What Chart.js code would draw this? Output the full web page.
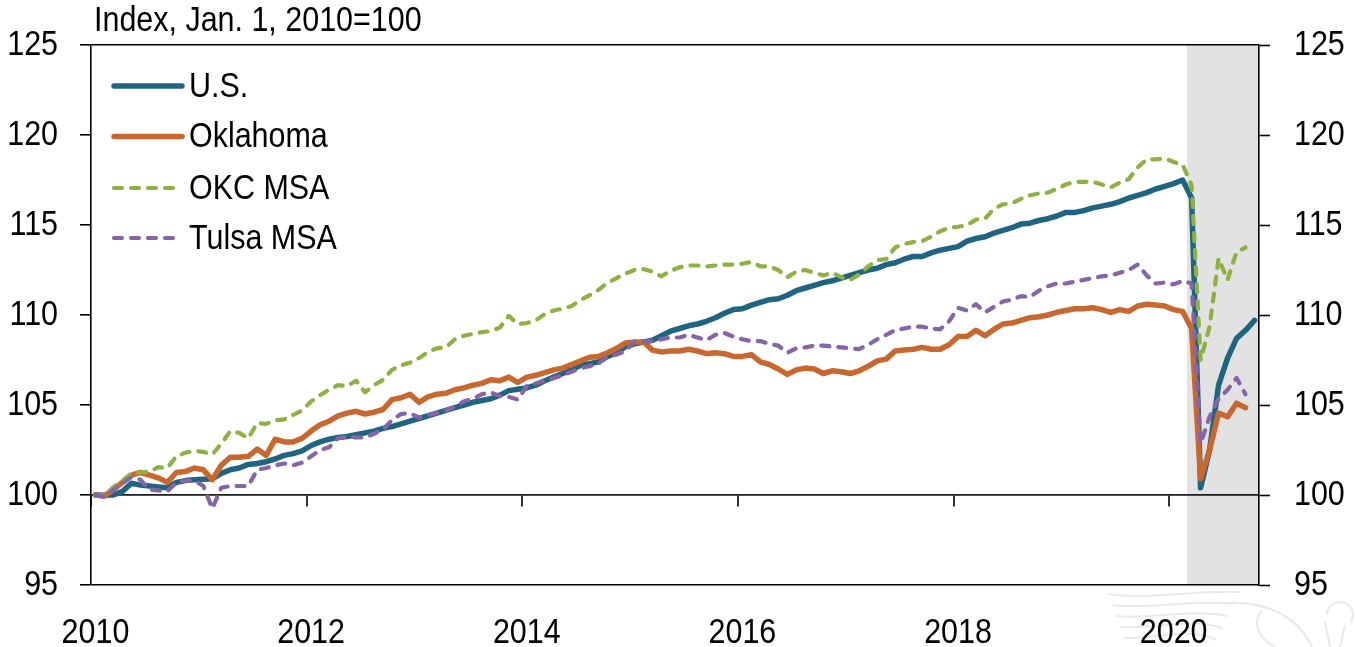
<!DOCTYPE html>
<html>
<head>
<meta charset="utf-8">
<title>Index, Jan. 1, 2010=100</title>
<script src="https://cdn.jsdelivr.net/npm/chart.js@4/dist/chart.umd.min.js"></script>
<style>
html,body{margin:0;padding:0;background:#fff}
#wrap{position:relative;width:1355px;height:647px}
</style>
</head>
<body>
<div id="wrap"><canvas id="c" width="1355" height="647"></canvas></div>
<script>
// DATA
const unitLabel='Index, Jan. 1, 2010=100';
const yTicks=[95,100,105,110,115,120,125];
const framedTicks=[95,100,125];
const recessionStart='2020-03';

const usValues=[
 100,99.98,100,100.2,100.65,100.55,100.5,100.45,100.4,100.7,100.8,100.85,
 100.87,100.9,101.2,101.4,101.5,101.7,101.75,101.85,102,102.2,102.3,102.45,
 102.75,102.95,103.1,103.2,103.25,103.35,103.45,103.55,103.7,103.8,103.95,104.1,
 104.25,104.4,104.55,104.7,104.85,105,105.15,105.25,105.35,105.55,105.8,105.87,
 105.95,106.1,106.35,106.55,106.75,106.95,107.2,107.3,107.4,107.7,107.9,108.25,
 108.4,108.5,108.6,108.85,109.1,109.25,109.4,109.5,109.65,109.85,110.1,110.3,
 110.35,110.55,110.7,110.85,110.9,111.1,111.35,111.5,111.65,111.8,111.9,112.05,
 112.2,112.35,112.5,112.6,112.8,112.9,113.1,113.25,113.25,113.45,113.6,113.7,
 113.8,114.1,114.25,114.35,114.55,114.7,114.85,115.05,115.1,115.25,115.35,115.5,
 115.7,115.7,115.8,115.95,116.05,116.15,116.3,116.5,116.65,116.8,117,117.15,
 117.3,117.5,116.5,100.4,102.5,106.1,107.6,108.7,109.15,109.7];

const oklahomaValues=[
 100,99.95,100.3,100.7,101.1,101.25,101.1,100.95,100.7,101.25,101.3,101.5,
 101.4,100.85,101.65,102.1,102.1,102.15,102.55,102.2,103.1,102.95,102.95,103.15,
 103.55,103.9,104.1,104.4,104.55,104.65,104.5,104.6,104.75,105.3,105.4,105.6,
 105.15,105.45,105.6,105.65,105.85,105.95,106.1,106.2,106.4,106.35,106.55,106.25,
 106.55,106.65,106.8,106.95,107.05,107.25,107.45,107.65,107.7,107.9,108.15,108.45,
 108.5,108.5,108.05,107.95,108,108,108.1,108,107.85,107.9,107.85,107.7,
 107.7,107.8,107.4,107.25,107,106.7,106.95,107.05,107,106.75,106.9,106.85,
 106.75,106.9,107.15,107.45,107.55,108,108.05,108.1,108.2,108.1,108.1,108.35,
 108.8,108.8,109.15,108.85,109.2,109.5,109.55,109.7,109.85,109.9,110,110.15,
 110.25,110.35,110.35,110.4,110.3,110.15,110.3,110.2,110.5,110.6,110.55,110.5,
 110.3,110.2,109.25,100.9,102.5,104.55,104.35,105.1,104.85];

const okcValues=[
 100,99.95,100.45,100.8,101.2,101.25,101.3,101.55,101.5,102.15,102.35,102.45,
 102.4,102.25,102.85,103.55,103.45,103.15,104,103.95,104.15,104.2,104.45,104.7,
 105.2,105.55,105.85,106.1,106.05,106.35,105.7,106.1,106.4,106.95,107.2,107.35,
 107.6,107.95,108.15,108.2,108.65,108.85,108.95,109.05,109.1,109.3,109.95,109.5,
 109.55,109.7,110.05,110.25,110.35,110.5,110.85,111.1,111.4,111.8,112.05,112.3,
 112.5,112.55,112.4,112.15,112.45,112.65,112.75,112.75,112.7,112.75,112.8,112.8,
 112.85,112.95,112.7,112.7,112.5,112.1,112.4,112.5,112.35,112.2,112.35,112.1,
 111.95,112.25,112.7,113.05,113.1,113.75,113.95,114.05,114.1,114.35,114.65,114.85,
 114.9,115,115.3,115.35,115.9,116.15,116.2,116.45,116.65,116.75,116.8,117,
 117.25,117.4,117.4,117.4,117.25,117.1,117.35,117.55,118.2,118.65,118.65,118.7,
 118.5,118.35,117.2,107.5,109.35,113.15,111.95,113.5,113.75];

const tulsaValues=[
 100,99.9,100.3,100.65,101,100.85,100.3,100.25,100.2,100.7,100.8,100.8,
 100.5,99.25,100.4,100.5,100.5,100.5,101.4,101.5,101.65,101.75,101.65,101.8,
 102.15,102.5,102.65,103.15,103.25,103.2,103.2,103.4,103.65,104.15,104.5,104.55,
 104.3,104.45,104.55,104.7,104.9,105.2,105.35,105.6,105.7,105.5,105.45,105.3,
 106.05,106.2,106.35,106.5,106.65,106.85,107.05,107.15,107.3,107.7,107.8,108,
 108.55,108.55,108.55,108.65,108.75,108.75,108.9,108.75,108.6,108.9,109,108.8,
 108.65,108.55,108.55,108.4,108.3,107.9,108.15,108.2,108.3,108.3,108.25,108.2,
 108.15,108.1,108.35,108.65,108.9,109.15,109.25,109.35,109.35,109.25,109.2,109.65,
 110.4,110.25,110.6,110.15,110.45,110.75,110.85,111.05,111,111.35,111.6,111.75,
 111.75,111.85,111.95,112.05,112.15,112.2,112.35,112.5,112.8,112.2,111.75,111.8,
 111.7,111.9,111.75,102.85,104.35,105.35,105.85,106.5,105.6];

const months=[];
for(let y=2010;y<=2020;y++){
  for(let m=1;m<=12;m++){
    if(y===2020&&m>10)break;
    months.push(y+'-'+String(m).padStart(2,'0'));
  }
}

// STYLE
const FONT='"Liberation Sans",Arial,sans-serif';
const FS=35;
const SQUEEZE=0.87; // reference type is narrower than regular Arial
const DASH=[8,9];
const series=[
  {label:'U.S.',      data:usValues,      color:'#1f6480',width:5.5,dash:[],  order:4,ly:86},
  {label:'Oklahoma',  data:oklahomaValues,color:'#c8682f',width:5.5,dash:[],  order:3,ly:136.5},
  {label:'OKC MSA',   data:okcValues,     color:'#8fb142',width:4.2,dash:DASH,order:2,ly:188},
  {label:'Tulsa MSA', data:tulsaValues,   color:'#8564a8',width:4.2,dash:DASH,order:1,ly:238}
];

// all text on this canvas goes through here, squeezed about its anchor
const ctxEl=document.getElementById('c').getContext('2d');
const rawFillText=ctxEl.fillText.bind(ctxEl);
ctxEl.fillText=function(t,x,y,w){
  this.save();
  this.translate(x,y);
  this.scale(SQUEEZE,1);
  rawFillText(t,0,0);
  this.restore();
};

// shaded recession band + faint watermark go under everything
const underlay={
  id:'underlay',
  beforeDraw(chart){
    const ctx=chart.ctx,a=chart.chartArea,x=chart.scales.x;
    const half=(x.getPixelForValue(1)-x.getPixelForValue(0))/2;
    const x0=x.getPixelForValue(months.indexOf(recessionStart))-half;
    ctx.save();
    ctx.fillStyle='#e2e2e2';
    ctx.fillRect(x0,a.top,a.right-x0,a.bottom-a.top);
    // watermark, only a rough sketch of the wing
    ctx.strokeStyle='#e9e9e9';ctx.lineWidth=2;
    for(let i=0;i<5;i++){
      ctx.beginPath();
      ctx.moveTo(1108+i*4,594+i*11);
      ctx.bezierCurveTo(1150,600+i*10,1190,590+i*9,1240-i*6,592+i*12);
      ctx.stroke();
    }
    ctx.beginPath();ctx.moveTo(1225,603);ctx.bezierCurveTo(1270,600,1300,620,1312,647);ctx.stroke();
    ctx.beginPath();ctx.moveTo(1262,610);ctx.bezierCurveTo(1250,625,1262,640,1275,647);ctx.stroke();
    ctx.beginPath();ctx.arc(1340,615,13,Math.PI,Math.PI*2.2);ctx.stroke();
    ctx.beginPath();ctx.moveTo(1325,622);ctx.lineTo(1330,647);ctx.moveTo(1345,625);ctx.lineTo(1340,647);ctx.stroke();
    ctx.restore();
  }
};

// legend sits inside the plot, unit label above it
const overlay={
  id:'overlay',
  afterDraw(chart){
    const ctx=chart.ctx;
    ctx.save();
    ctx.font=FS+'px '+FONT;
    ctx.fillStyle='#000';
    ctx.textBaseline='middle';
    ctx.textAlign='left';
    ctx.fillText(unitLabel,94,21);
    series.forEach(s=>{
      ctx.beginPath();
      ctx.strokeStyle=s.color;
      ctx.lineWidth=s.width;
      ctx.lineCap='round';
      ctx.setLineDash(s.dash);
      ctx.moveTo(114,s.ly);ctx.lineTo(182,s.ly);
      ctx.stroke();
      ctx.setLineDash([]);
      ctx.fillText(s.label,189,s.ly+1);
    });
    ctx.restore();
  }
};

function noPad(s){s.paddingLeft=0;s.paddingRight=0;s.paddingTop=0;s.paddingBottom=0}

new Chart(ctxEl,{
  type:'line',
  data:{
    labels:months,
    datasets:series.map(s=>({
      label:s.label,data:s.data,order:s.order,
      borderColor:s.color,borderWidth:s.width,borderDash:s.dash,
      borderCapStyle:'round',borderJoinStyle:'round',
      pointRadius:0,tension:0,fill:false,clip:false
    }))
  },
  options:{
    responsive:false,
    animation:false,
    events:[],
    layout:{padding:{top:45,left:0,right:0,bottom:62}},
    plugins:{legend:{display:false},tooltip:{enabled:false}},
    scales:{
      x:{
        type:'category',
        position:{y:100},
        offset:true,
        afterFit(s){noPad(s);s.height=0},
        border:{color:'#222',width:1.6},
        grid:{
          offset:true,
          drawOnChartArea:false,
          tickLength:11,
          tickWidth:1.6,
          lineWidth:0,
          tickColor:c=>c.index%24===0?'#000':'rgba(0,0,0,0)'
        },
        ticks:{
          autoSkip:false,maxRotation:0,minRotation:0,
          padding:106,color:'#000',font:{family:FONT,size:FS},
          callback(v,i){return i%24===0?months[i].slice(0,4):''}
        }
      },
      y:{
        position:'left',
        min:95,max:125,
        afterFit(s){noPad(s);s.width=91},
        afterBuildTicks(s){s.ticks=yTicks.map(v=>({value:v}))},
        border:{color:'#000',width:1.6},
        grid:{
          color:c=>framedTicks.includes(c.tick&&c.tick.value)?'#000':'rgba(0,0,0,0)',
          tickColor:'#000',tickLength:11,lineWidth:1.6,tickWidth:1.6
        },
        ticks:{padding:22,color:'#000',font:{family:FONT,size:FS}}
      },
      y2:{
        position:'right',
        min:95,max:125,
        afterFit(s){noPad(s);s.width=96},
        afterBuildTicks(s){s.ticks=yTicks.map(v=>({value:v}))},
        border:{color:'#000',width:1.6},
        grid:{drawOnChartArea:false,tickColor:'#000',tickLength:11,tickWidth:1.6},
        ticks:{padding:24,color:'#000',font:{family:FONT,size:FS}}
      }
    }
  },
  plugins:[underlay,overlay]
});
</script>
</body>
</html>
